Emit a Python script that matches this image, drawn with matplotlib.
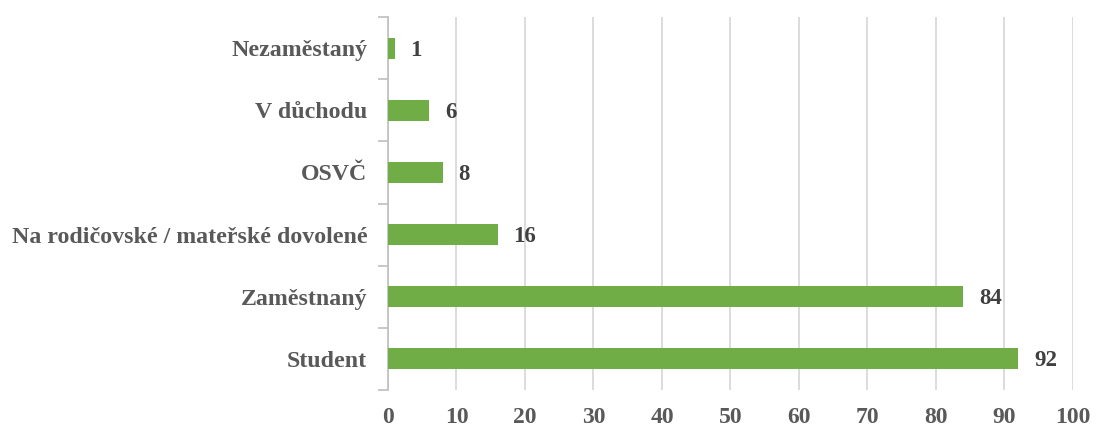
import matplotlib.pyplot as plt
import numpy as np

# data (bottom to top)
categories = ['Student', 'Zaměstnaný', 'Na rodičovské / mateřské dovolené',
              'OSVČ', 'V důchodu', 'Nezaměstaný']
values = [92, 84, 16, 8, 6, 1]
xticks = list(range(0, 101, 10))

plt.rcParams['font.family'] = ['Liberation Serif', 'DejaVu Serif']
axis_txt = '#595959'
label_txt = '#404040'
green = '#70AD47'

fig = plt.figure(figsize=(10.96, 4.28), dpi=100)
ax = fig.add_axes([0.354, 0.089, 0.625, 0.871])

y = np.arange(len(categories))
ax.barh(y, values, height=0.34, color=green, zorder=3)

for yi, v in zip(y, values):
    ax.text(v + 2.3, yi - 0.03, str(v), va='center', ha='left', fontsize=16.5,
            fontweight='bold', color=label_txt, zorder=4)

ax.set_xlim(0, 100)
ax.set_ylim(-0.5, len(categories) - 0.5)
ax.set_xticks(xticks)
ax.set_xticklabels([str(t) for t in xticks], fontsize=17, fontweight='bold', color=axis_txt)
ax.set_yticks(y)
ax.set_yticklabels(categories, fontsize=17.2, fontweight='bold', color=axis_txt)
ax.tick_params(axis='y', length=0, pad=15)
ax.tick_params(axis='x', length=0, pad=12)

# category separator ticks on the y axis
ax.set_yticks(np.arange(-0.5, len(categories), 1), minor=True)
ax.tick_params(axis='y', which='minor', length=7, color='#bfbfbf', width=1.2)

ax.grid(axis='x', color='#d9d9d9', linewidth=1.3, zorder=0)
for s in ['top', 'right', 'bottom']:
    ax.spines[s].set_visible(False)
ax.spines['left'].set_color('#bfbfbf')
ax.spines['left'].set_linewidth(1.2)

fig.savefig('out.png', dpi=100)
